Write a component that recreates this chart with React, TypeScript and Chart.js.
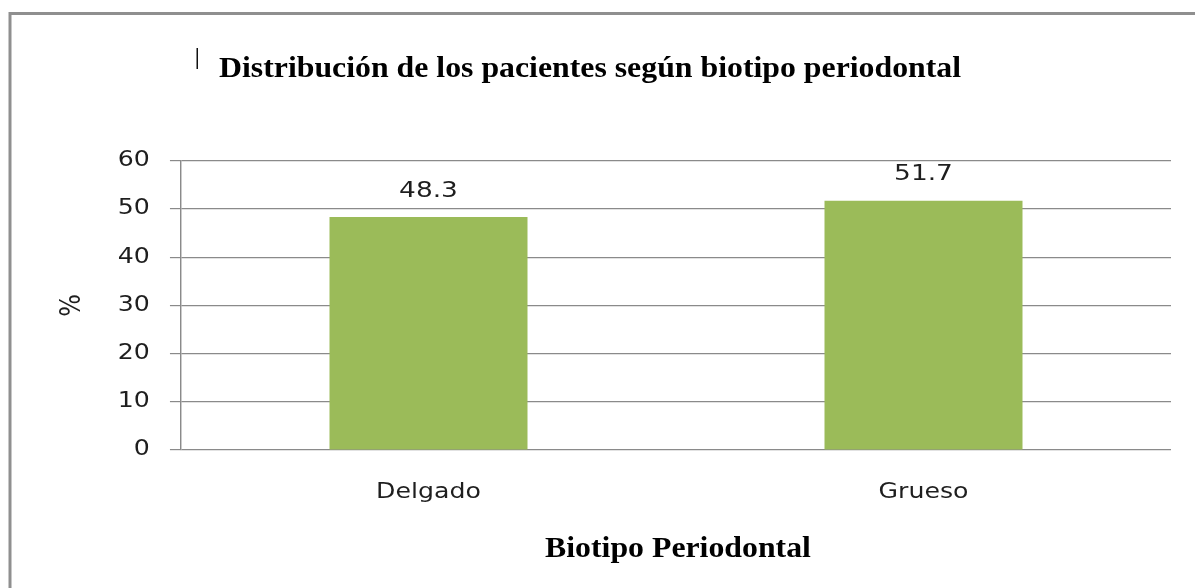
import React, { useEffect, useRef } from 'react';
import { Chart, registerables } from 'chart.js';

Chart.register(...registerables);

// ---- data ----
const categories: string[] = ['Delgado', 'Grueso'];
const percentages: number[] = [48.3, 51.7];
const yTickValues: number[] = [0, 10, 20, 30, 40, 50, 60];
const chartTitle = 'Distribución de los pacientes según biotipo periodontal';
const xAxisTitle = 'Biotipo Periodontal';
const yAxisTitle = '%';

// ---- styling ----
const W = 1195;
const H = 588;
const STRETCH = 1.2; // the original chart is horizontally stretched
const TITLE_STRETCH = 1.06;
const BAR_COLOR = '#9BBB59';
const GRID_COLOR = '#8a8a8a';
const TEXT_COLOR = '#1e1e1e';
const SANS = '"DejaVu Sans", Verdana, sans-serif';
const SERIF = '"Liberation Serif", "Times New Roman", serif';

const stretchPlugin = {
  id: 'stretchAndDecor',
  beforeDraw(chart: any) {
    const ctx = chart.ctx;
    ctx.save();
    ctx.scale(STRETCH, 1);
  },
  afterDatasetsDraw(chart: any) {
    const ctx = chart.ctx;
    const meta = chart.getDatasetMeta(0);
    ctx.save();
    ctx.font = `22px ${SANS}`;
    ctx.fillStyle = TEXT_COLOR;
    ctx.textAlign = 'center';
    ctx.textBaseline = 'alphabetic';
    meta.data.forEach((bar: any, i: number) => {
      ctx.fillText(String(percentages[i]), bar.x, bar.y - 20.5);
    });
    ctx.restore();
  },
  afterDraw(chart: any) {
    const ctx = chart.ctx;
    ctx.restore();
    const area = chart.chartArea;

    // outer frame (top and left edges visible)
    ctx.save();
    ctx.strokeStyle = '#8f8f8f';
    ctx.lineWidth = 3;
    ctx.beginPath();
    ctx.moveTo(10, H);
    ctx.lineTo(10, 13.5);
    ctx.lineTo(W, 13.5);
    ctx.stroke();
    ctx.restore();

    // text cursor mark before the title
    ctx.save();
    ctx.fillStyle = '#111';
    ctx.fillRect(196.5, 48, 1.5, 21);
    ctx.restore();

    // main title
    ctx.save();
    ctx.translate(219, 77);
    ctx.scale(TITLE_STRETCH, 1);
    ctx.font = `bold 30px ${SERIF}`;
    ctx.fillStyle = '#000';
    ctx.textAlign = 'left';
    ctx.textBaseline = 'alphabetic';
    ctx.fillText(chartTitle, 0, 0);
    ctx.restore();

    // x axis title
    ctx.save();
    const cx = ((area.left + area.right) / 2) * STRETCH + 2;
    ctx.translate(cx, 557);
    ctx.scale(TITLE_STRETCH, 1);
    ctx.font = `bold 30px ${SERIF}`;
    ctx.fillStyle = '#000';
    ctx.textAlign = 'center';
    ctx.textBaseline = 'alphabetic';
    ctx.fillText(xAxisTitle, 0, 0);
    ctx.restore();
  },
};

export default function App() {
  const canvasRef = useRef<HTMLCanvasElement | null>(null);

  useEffect(() => {
    const canvas = canvasRef.current;
    if (!canvas) return;
    const plotLeft = 181 / STRETCH;
    const plotRight = 1171 / STRETCH;
    const chart = new Chart(canvas, {
      type: 'bar',
      data: {
        labels: categories,
        datasets: [
          {
            data: percentages,
            backgroundColor: BAR_COLOR,
            borderWidth: 0,
            barPercentage: 0.4,
            categoryPercentage: 1,
          },
        ],
      },
      options: {
        animation: false,
        responsive: false,
        devicePixelRatio: 1,
        events: [],
        layout: {
          padding: { left: 0, top: 160.7, right: W - plotRight, bottom: 0 },
        },
        plugins: {
          legend: { display: false },
          tooltip: { enabled: false },
          title: { display: false },
        },
        scales: {
          x: {
            grid: { display: false, drawTicks: false },
            border: { display: false },
            ticks: {
              padding: 30.1,
              color: TEXT_COLOR,
              font: { family: SANS, size: 21 },
            },
            afterFit: (axis: any) => {
              axis.height = H - 450;
            },
          },
          y: {
            min: 0,
            max: 60,
            afterBuildTicks: (axis: any) => {
              axis.ticks = yTickValues.map((v) => ({ value: v }));
            },
            grid: { color: GRID_COLOR, lineWidth: 1.2, tickLength: 9.2 },
            border: { display: true, color: GRID_COLOR, width: 1.2 },
            ticks: {
              padding: 16.8,
              color: TEXT_COLOR,
              font: { family: SANS, size: 21 },
            },
            title: {
              display: true,
              text: yAxisTitle,
              color: TEXT_COLOR,
              font: { family: SANS, size: 24 },
              padding: { top: 46, bottom: 0 },
            },
            afterFit: (axis: any) => {
              axis.width = plotLeft;
            },
          },
        },
      },
      plugins: [stretchPlugin],
    });
    return () => chart.destroy();
  }, []);

  return (
    <div style={{ position: 'absolute', left: 0, top: 0, width: W, height: H, background: '#fff' }}>
      <canvas ref={canvasRef} width={W} height={H} style={{ display: 'block', width: W, height: H }} />
    </div>
  );
}
